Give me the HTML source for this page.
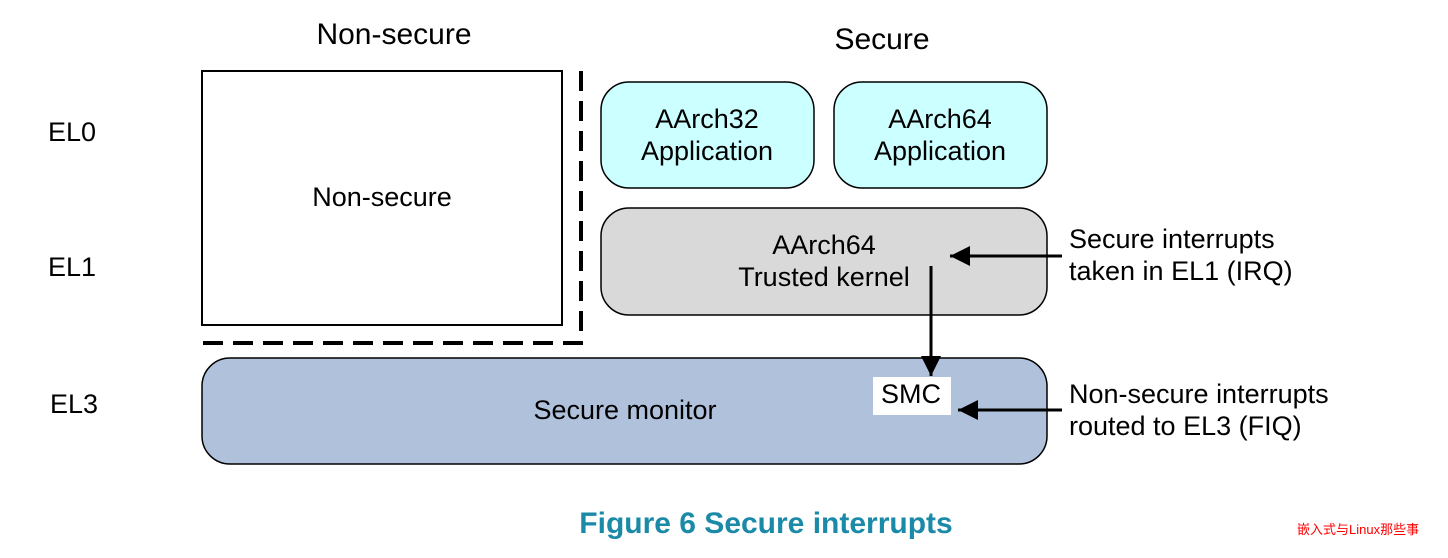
<!DOCTYPE html>
<html><head><meta charset="utf-8"><style>
body{margin:0;background:#fff;}
svg{display:block;font-family:"Liberation Sans",Arial,sans-serif;}
</style></head><body>
<svg width="1448" height="558" viewBox="0 0 1448 558" xmlns="http://www.w3.org/2000/svg">
<defs>
<marker id="b" viewBox="0 0 20 20" markerWidth="22" markerHeight="20" refX="20" refY="10" orient="auto" markerUnits="userSpaceOnUse"><path d="M0,0 L20,10 L0,20 z" fill="#000"/></marker></defs>
<g font-size="27" fill="#000">
<text x="394" y="44" text-anchor="middle" font-size="30">Non-secure</text>
<text x="882" y="49" text-anchor="middle" font-size="30">Secure</text>
<text x="48" y="141">EL0</text>
<text x="48" y="276">EL1</text>
<text x="50" y="413">EL3</text>
</g>
<rect x="202" y="71" width="360" height="254" fill="#fff" stroke="#000" stroke-width="2"/>
<path d="M581,71 V343 H202" fill="none" stroke="#000" stroke-width="4" stroke-dasharray="20,10"/>
<rect x="601" y="82" width="213" height="106" rx="28" fill="#ccffff" stroke="#000" stroke-width="1.5"/>
<rect x="834" y="82" width="213" height="106" rx="28" fill="#ccffff" stroke="#000" stroke-width="1.5"/>
<rect x="601" y="208" width="446" height="107" rx="28" fill="#d9d9d9" stroke="#000" stroke-width="1.5"/>
<rect x="202" y="358" width="845" height="106" rx="28" fill="#b0c2db" stroke="#000" stroke-width="1.5"/>
<rect x="873" y="377" width="78" height="38" fill="#fff"/>
<g font-size="27" fill="#000" text-anchor="middle">
<text x="382" y="206">Non-secure</text>
<text x="707" y="128">AArch32</text><text x="707" y="160">Application</text>
<text x="940" y="128">AArch64</text><text x="940" y="160">Application</text>
<text x="824" y="254">AArch64</text><text x="824" y="286">Trusted kernel</text>
<text x="625" y="419">Secure monitor</text>
<text x="911" y="403">SMC</text>
</g>
<g font-size="27" fill="#000">
<text x="1069" y="248">Secure interrupts</text><text x="1069" y="280">taken in EL1 (IRQ)</text>
<text x="1069" y="403">Non-secure interrupts</text><text x="1069" y="435">routed to EL3 (FIQ)</text>
</g>
<g stroke="#000" stroke-width="3" fill="none">
<line x1="1062" y1="256" x2="950" y2="256" marker-end="url(#b)"/>
<line x1="931" y1="266" x2="931" y2="376" marker-end="url(#b)"/>
<line x1="1062" y1="410" x2="958" y2="410" marker-end="url(#b)"/>
</g>
<text x="766" y="533" text-anchor="middle" font-size="30" font-weight="bold" fill="#1a8aa8">Figure 6 Secure interrupts</text>
<text x="1297" y="534" font-size="13" fill="#ff0000" font-family="'Liberation Sans','Noto Sans CJK SC',sans-serif">嵌入式与Linux那些事</text>
</svg>
</body></html>
